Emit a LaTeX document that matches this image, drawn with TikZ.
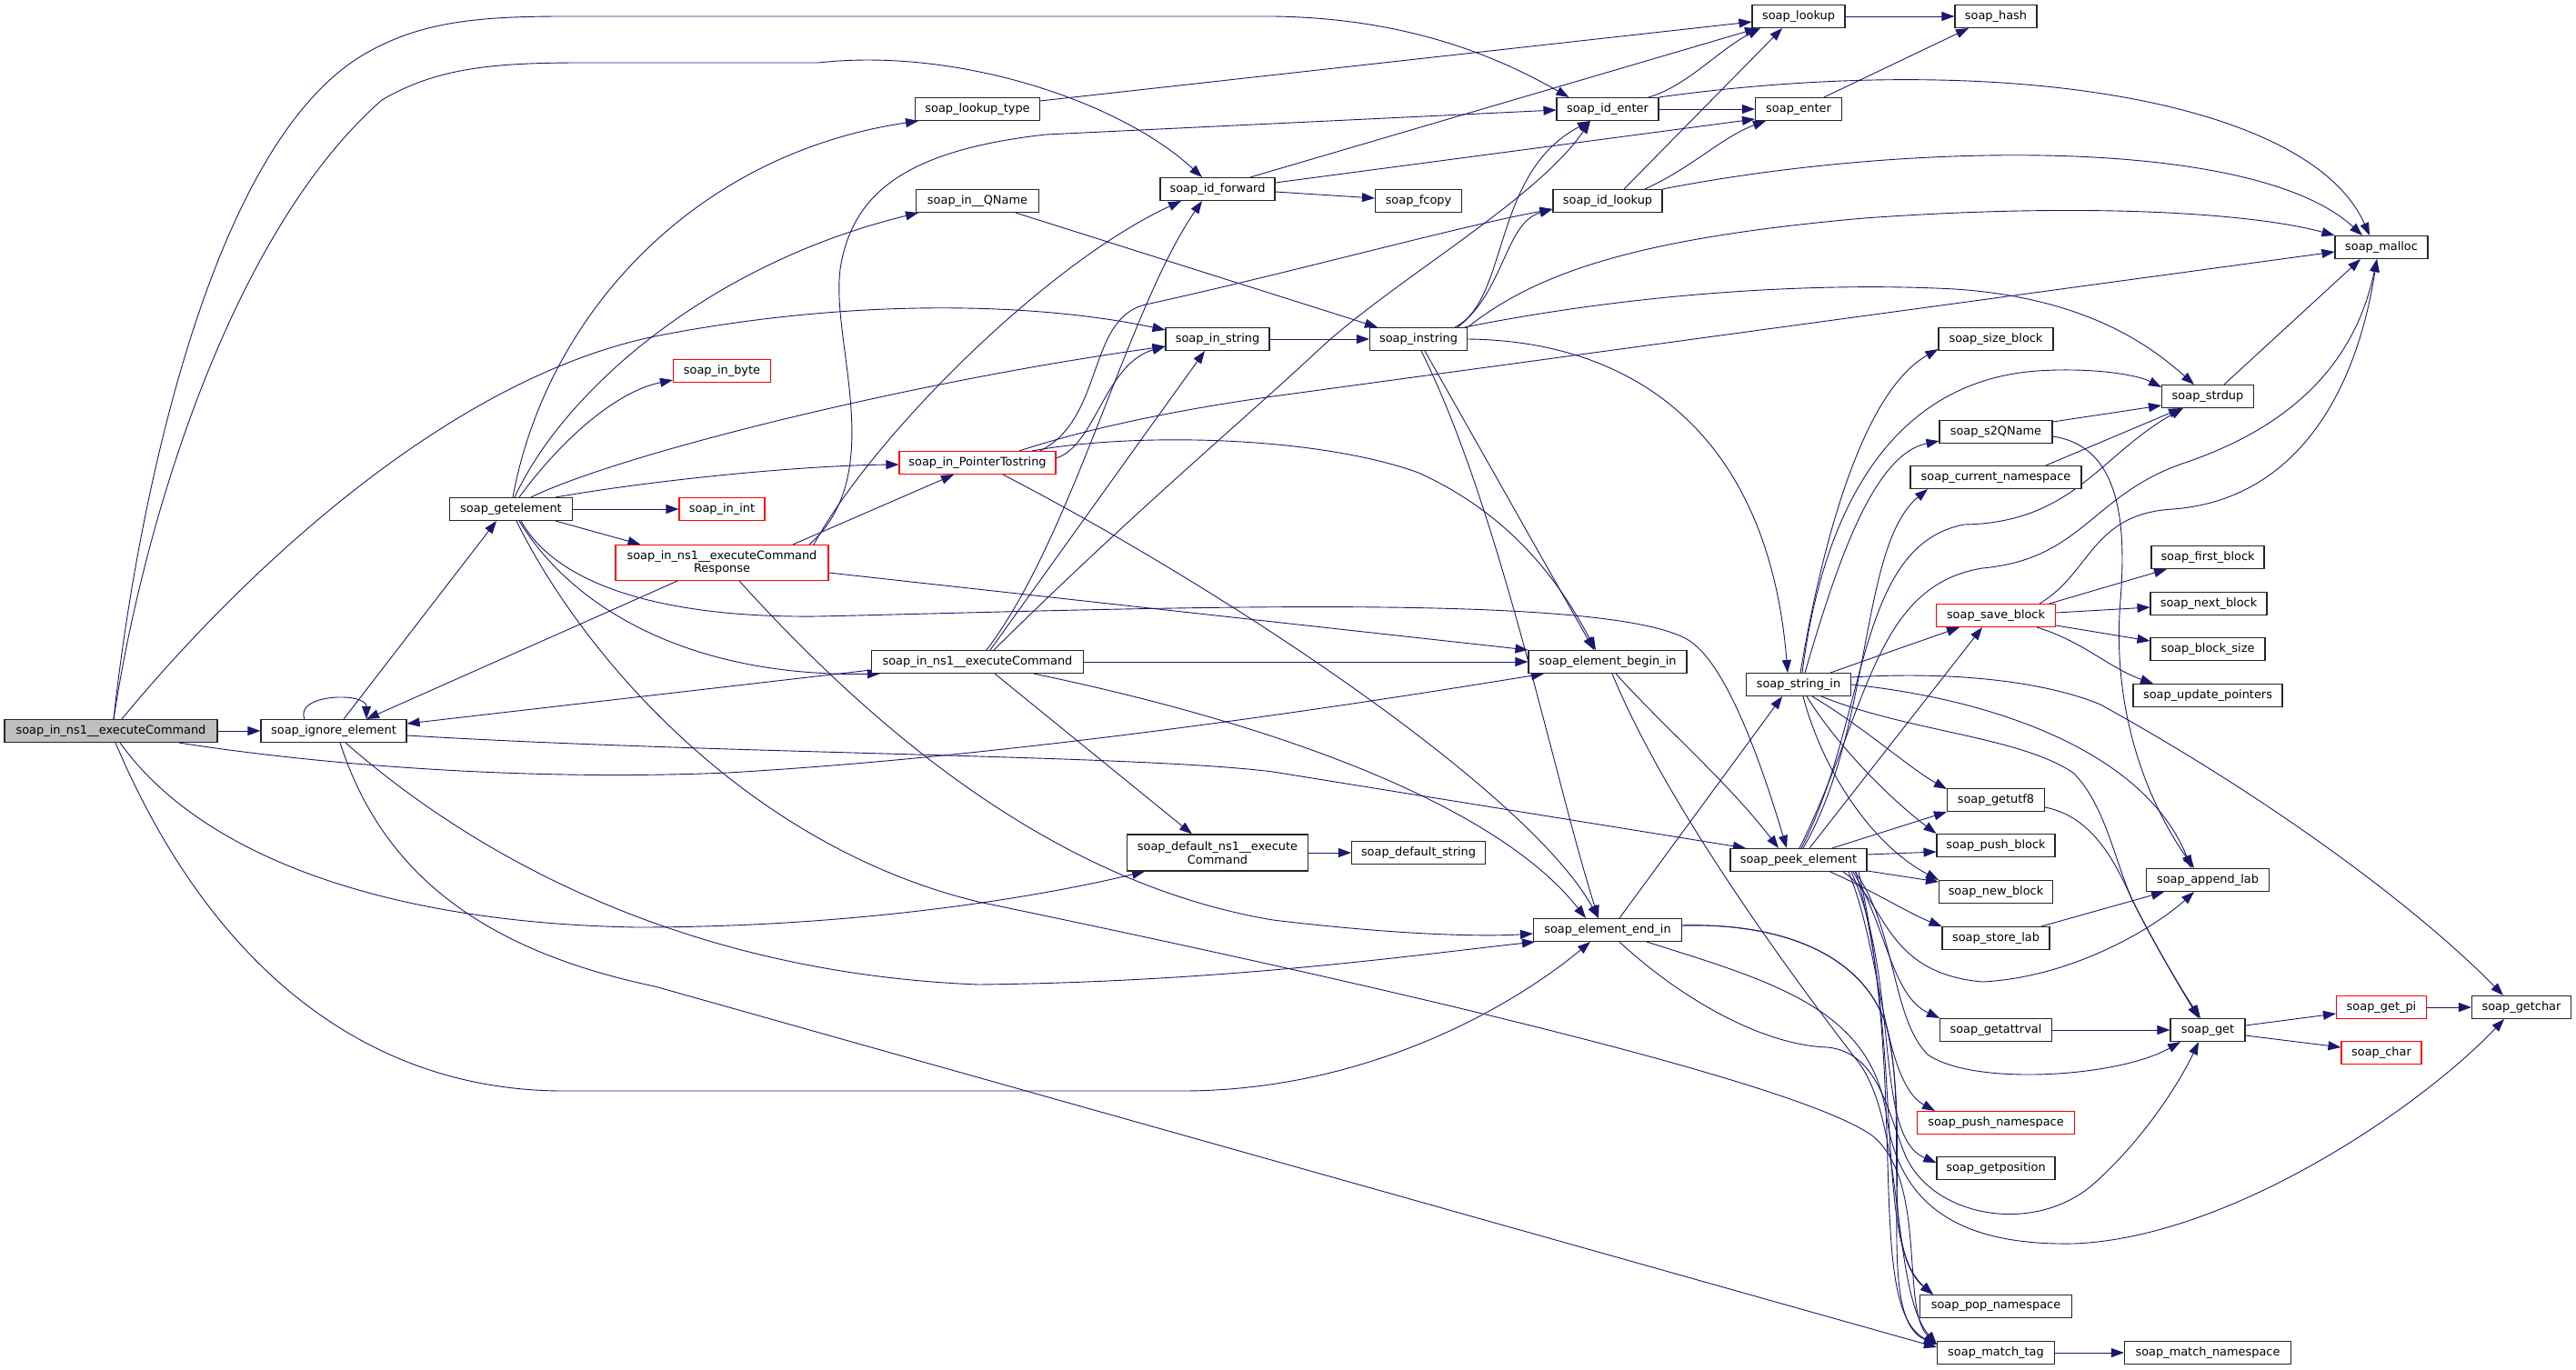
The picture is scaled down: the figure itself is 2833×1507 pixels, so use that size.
\documentclass[tikz,border=0pt]{standalone}
\usepackage{fontspec}
\setmainfont{DejaVu Sans}
\usetikzlibrary{arrows.meta,backgrounds}
\definecolor{callblue}{HTML}{191970}
\definecolor{rootgray}{HTML}{BFBFBF}
\newcommand\fnfont{\fontsize{12.9pt}{14.5pt}\selectfont}
\tikzset{
  fnbox/.style  ={draw=black!85,line width=1.1pt,fill=white,inner sep=0pt,
                  minimum height=25pt,font=\fnfont,align=center},
  redbox/.style ={fnbox,draw=red},
  rootbox/.style={fnbox,fill=rootgray},
  call/.style   ={draw=callblue,line width=0.9pt,-{Triangle[length=14pt,width=10pt]}},
}
\begin{document}
\begin{tikzpicture}[x=1pt,y=-1pt]
\useasboundingbox (0,0) rectangle (2833,1507);
% callers on the left
\node[rootbox,minimum width=234pt] (root) at (122,804) {soap\_in\_ns1\_\_executeCommand};
\node[fnbox,minimum width=160pt] (ignore) at (367,804) {soap\_ignore\_element};
\node[fnbox,minimum width=135pt] (getelem) at (562,560) {soap\_getelement};
\node[redbox,minimum width=107pt] (inbyte) at (794,408) {soap\_in\_byte};
\node[redbox,minimum width=94pt] (inint) at (794,560) {soap\_in\_int};
\node[redbox,minimum width=234pt,minimum height=39pt] (resp) at (794,619) {soap\_in\_ns1\_\_executeCommand\\Response};
\node[fnbox,minimum width=137pt] (lookuptype) at (1075,120) {soap\_lookup\_type};
\node[fnbox,minimum width=135pt] (inqname) at (1075,221) {soap\_in\_\_QName};
\node[redbox,minimum width=172pt] (inptr) at (1075,509) {soap\_in\_PointerTostring};
\node[fnbox,minimum width=233pt] (incmd) at (1075,728) {soap\_in\_ns1\_\_executeCommand};
\node[fnbox,minimum width=126pt] (idfwd) at (1339,208) {soap\_id\_forward};
\node[fnbox,minimum width=114pt] (instr) at (1339,373) {soap\_in\_string};
\node[fnbox,minimum width=199pt,minimum height=40pt] (defcmd) at (1339,938) {soap\_default\_ns1\_\_execute\\Command};
\node[fnbox,minimum width=95pt] (fcopy) at (1560,221) {soap\_fcopy};
\node[fnbox,minimum width=107pt] (instring) at (1560,373) {soap\_instring};
\node[fnbox,minimum width=147pt] (defstr) at (1560,938) {soap\_default\_string};
\node[fnbox,minimum width=112pt] (identer) at (1768,120) {soap\_id\_enter};
\node[fnbox,minimum width=120pt] (idlookup) at (1768,221) {soap\_id\_lookup};
\node[fnbox,minimum width=174pt] (beginin) at (1768,728) {soap\_element\_begin\_in};
\node[fnbox,minimum width=163pt] (endin) at (1768,1023) {soap\_element\_end\_in};
\node[fnbox,minimum width=102pt] (lookup) at (1978,18) {soap\_lookup};
\node[fnbox,minimum width=95pt] (enter) at (1978,120) {soap\_enter};
\node[fnbox,minimum width=115pt] (stringin) at (1978,753) {soap\_string\_in};
\node[fnbox,minimum width=150pt] (peek) at (1978,946) {soap\_peek\_element};
% runtime helpers
\node[fnbox,minimum width=90pt] (hash) at (2195,18) {soap\_hash};
\node[fnbox,minimum width=126pt] (sizeblock) at (2195,373) {soap\_size\_block};
\node[fnbox,minimum width=124pt] (s2qname) at (2195,475) {soap\_s2QName};
\node[fnbox,minimum width=188pt] (curns) at (2195,525) {soap\_current\_namespace};
\node[redbox,minimum width=131pt] (saveblock) at (2195,677) {soap\_save\_block};
\node[fnbox,minimum width=107pt] (getutf8) at (2195,880) {soap\_getutf8};
\node[fnbox,minimum width=130pt] (pushblock) at (2195,930) {soap\_push\_block};
\node[fnbox,minimum width=125pt] (newblock) at (2195,981) {soap\_new\_block};
\node[fnbox,minimum width=118pt] (storelab) at (2195,1032) {soap\_store\_lab};
\node[fnbox,minimum width=123pt] (getattrval) at (2195,1133) {soap\_getattrval};
\node[redbox,minimum width=173pt] (pushns) at (2195,1235) {soap\_push\_namespace};
\node[fnbox,minimum width=130pt] (getpos) at (2195,1285) {soap\_getposition};
\node[fnbox,minimum width=167pt] (popns) at (2195,1437) {soap\_pop\_namespace};
\node[fnbox,minimum width=129pt] (matchtag) at (2195,1488) {soap\_match\_tag};
\node[fnbox,minimum width=101pt] (strdup) at (2428,436) {soap\_strdup};
\node[fnbox,minimum width=124pt] (firstblock) at (2428,613) {soap\_first\_block};
\node[fnbox,minimum width=128pt] (nextblock) at (2429,664) {soap\_next\_block};
\node[fnbox,minimum width=126pt] (blocksize) at (2428,714) {soap\_block\_size};
\node[fnbox,minimum width=164pt] (updptr) at (2428,765) {soap\_update\_pointers};
\node[fnbox,minimum width=135pt] (appendlab) at (2428,968) {soap\_append\_lab};
\node[fnbox,minimum width=82pt] (get) at (2428,1133) {soap\_get};
\node[fnbox,minimum width=183pt] (matchns) at (2428,1488) {soap\_match\_namespace};
\node[fnbox,minimum width=102pt] (malloc) at (2619,272) {soap\_malloc};
\node[redbox,minimum width=99pt] (getpi) at (2619,1108) {soap\_get\_pi};
\node[redbox,minimum width=88pt] (chr) at (2619,1158) {soap\_char};
\node[fnbox,minimum width=109pt] (getchar) at (2773,1108) {soap\_getchar};

\begin{scope}[on background layer]
\foreach \a/\b in {root/ignore,getelem/inint,incmd/beginin,instr/instring,identer/enter,
  lookup/hash,defcmd/defstr,getpi/getchar,getattrval/get,matchtag/matchns}
  \draw[call] (\a.east) -- (\b.west);
% root
\draw[call] ([xshift=3pt]root.north) .. controls (150,560) and (230,160) .. (400,60) .. controls (460,25) and (520,18) .. (620,18) -- (1400,18) .. controls (1560,20) and (1660,70) .. ([xshift=14pt]identer.north west);
\draw[call] ([xshift=3pt]root.north) .. controls (160,560) and (260,250) .. (420,110) .. controls (480,75) and (540,69) .. (640,69) -- (900,69) .. controls (1050,52) and (1230,110) .. ([xshift=-17pt]idfwd.north);
\draw[call] ([xshift=12pt]root.north) .. controls (250,650) and (480,420) .. (720,370) .. controls (950,325) and (1150,335) .. ([yshift=-3pt]instr.north west);
\draw[call] ([xshift=75pt]root.south) .. controls (330,838) and (560,860) .. (800,850) .. controls (1150,830) and (1550,765) .. ([xshift=-70pt]beginin.south);
\draw[call] ([xshift=10pt]root.south) .. controls (220,940) and (420,1015) .. (700,1020) .. controls (950,1020) and (1150,985) .. ([xshift=-80pt]defcmd.south);
\draw[call] ([xshift=5pt]root.south) .. controls (230,1060) and (400,1200) .. (620,1200) -- (1300,1200) .. controls (1500,1200) and (1660,1110) .. ([xshift=-19pt]endin.south);
% soap_ignore_element
\draw[call] ([xshift=11pt]ignore.north) -- ([xshift=-16pt]getelem.south);
\draw[call] ([xshift=-32pt]ignore.north) .. controls +(-12,-28) and +(0,-30) .. ([xshift=36pt]ignore.north);
\draw[call] ([yshift=-5pt]ignore.east) .. controls (800,830) and (1250,830) .. (1400,849) -- ([xshift=-58pt]peek.north);
\draw[call] ([xshift=13pt]ignore.south) .. controls (520,940) and (750,1070) .. (1076,1083) .. controls (1350,1080) and (1560,1050) .. ([xshift=2pt]endin.south west);
\draw[call] ([xshift=7pt]ignore.south) .. controls (420,960) and (530,1045) .. (720,1085) -- ([yshift=6pt]matchtag.west);
% soap_getelement
\draw[call] ([xshift=2pt]getelem.north) .. controls (600,350) and (760,170) .. ([xshift=-65pt]lookuptype.south);
\draw[call] ([xshift=4pt]getelem.north) .. controls (620,430) and (780,290) .. ([xshift=-65pt]inqname.south);
\draw[call] ([xshift=9pt]getelem.north) .. controls (620,480) and (680,430) .. ([yshift=3pt]inbyte.south west);
\draw[call] ([xshift=22pt]getelem.north) .. controls (680,500) and (1000,420) .. ([yshift=-8pt]instr.west);
\draw[call] ([xshift=49pt]getelem.north) .. controls (720,528) and (880,512) .. ([yshift=-2pt]inptr.west);
\draw[call] ([xshift=49pt]getelem.south) -- ([xshift=28pt]resp.north west);
\draw[call] ([xshift=9pt]getelem.south) .. controls (630,670) and (760,745) .. ([xshift=10pt]incmd.south west);
\draw[call] ([xshift=11pt]getelem.south) .. controls (610,640) and (720,680) .. (900,678) .. controls (1250,670) and (1760,650) .. (1855,703) .. controls (1900,728) and (1940,850) .. ([xshift=-13pt]peek.north);
\draw[call] ([xshift=6pt]getelem.south) .. controls (640,720) and (820,930) .. (1076,992) .. controls (1500,1080) and (1980,1190) .. (2060,1250) .. controls (2120,1300) and (2090,1440) .. ([yshift=-4pt]matchtag.north west);
% soap_in_ns1__executeCommandResponse
\draw[call] ([xshift=78pt]resp.north) -- ([xshift=-26pt]inptr.south);
\draw[call] ([xshift=96pt]resp.north) .. controls (980,520) and (910,370) .. (925,290) .. controls (940,210) and (1000,165) .. (1150,148) -- ([yshift=-1pt]identer.west);
\draw[call] ([xshift=101pt]resp.north) .. controls (960,480) and (1150,290) .. ([xshift=-40pt]idfwd.south);
\draw[call] ([yshift=-11pt]resp.east) -- (beginin.north west);
\draw[call] ([xshift=19pt]resp.south) .. controls (950,790) and (1150,970) .. (1400,1012) .. controls (1550,1030) and (1640,1030) .. ([yshift=-4pt]endin.west);
\draw[call] ([xshift=-49pt]resp.south) -- ([xshift=36pt]ignore.north);
% soap_in_PointerTostring
\draw[call] ([yshift=5pt]inptr.east) .. controls (1205,490) and (1215,400) .. ([yshift=-8pt]instr.west);
\draw[call] ([xshift=69pt]inptr.north) .. controls (1215,460) and (1195,350) .. (1260,335) .. controls (1420,300) and (1600,250) .. ([yshift=-9pt]idlookup.west);
\draw[call] ([xshift=46pt]inptr.north) .. controls (1200,470) and (1300,450) .. (1400,436) -- ([yshift=-5pt]malloc.west);
\draw[call] ([xshift=60pt]inptr.north) .. controls (1250,475) and (1450,480) .. (1560,520) .. controls (1670,570) and (1720,650) .. ([xshift=-13pt]beginin.north);
\draw[call] ([xshift=28pt]inptr.south) .. controls (1350,650) and (1680,870) .. ([xshift=-10pt]endin.north);
% soap_in_ns1__executeCommand
\draw[call] ([yshift=-9pt]incmd.west) -- ([yshift=8pt]ignore.east);
\draw[call] ([xshift=19pt]incmd.south) -- ([xshift=-28pt]defcmd.north);
\draw[call] ([xshift=62pt]incmd.south) .. controls (1420,800) and (1650,890) .. ([xshift=-24pt]endin.north);
\draw[call] ([xshift=14pt]incmd.north) -- ([xshift=-14pt]instr.south);
\draw[call] ([xshift=10pt]incmd.north) .. controls (1180,590) and (1240,340) .. ([xshift=-17pt]idfwd.south);
\draw[call] ([xshift=18pt]incmd.north) .. controls (1250,560) and (1370,460) .. (1450,385) .. controls (1530,310) and (1690,220) .. ([xshift=-19pt]identer.south);
% middle column
\draw[call] ([xshift=42pt]inqname.south) -- ([xshift=-45pt]instring.north);
\draw[call] ([yshift=9pt]lookuptype.east) -- ([yshift=-6pt]lookup.west);
\draw[call] ([xshift=36pt]idfwd.north) -- ([xshift=-45pt]lookup.south);
\draw[call] ([yshift=7pt]idfwd.east) -- ([yshift=-11pt]enter.west);
\draw[call] ([yshift=-3pt]idfwd.east) -- ([yshift=3pt]fcopy.west);
% soap_instring
\draw[call] ([xshift=40pt]instring.north) .. controls (1660,330) and (1640,190) .. ([xshift=-19pt]identer.south);
\draw[call] ([xshift=43pt]instring.north) .. controls (1655,320) and (1655,245) .. ([yshift=-9pt]idlookup.west);
\draw[call] (instring.north east) .. controls (1690,300) and (1800,262) .. (2050,240) .. controls (2300,222) and (2480,235) .. (malloc.north west);
\draw[call] ([xshift=-3pt]instring.north east) .. controls (1800,322) and (2000,310) .. (2150,318) .. controls (2300,328) and (2370,385) .. ([xshift=-15pt]strdup.north);
\draw[call] (instring.east) .. controls (1800,375) and (1945,480) .. ([xshift=-12pt]stringin.north);
\draw[call] ([xshift=7pt]instring.south) -- ([xshift=-15pt]beginin.north);
\draw[call] ([xshift=3pt]instring.south) .. controls (1650,560) and (1710,860) .. ([xshift=-10pt]endin.north);
% hashing and ids
\draw[call] ([xshift=45pt]identer.north) .. controls (1855,95) and (1890,55) .. ([xshift=-42pt]lookup.south);
\draw[call] (identer.north east) .. controls (2200,55) and (2540,110) .. ([xshift=-13pt]malloc.north);
\draw[call] ([xshift=18pt]idlookup.north) -- ([xshift=-18pt]lookup.south);
\draw[call] ([xshift=41pt]idlookup.north) .. controls (1860,185) and (1895,150) .. ([xshift=-36pt]enter.south);
\draw[call] (idlookup.north east) .. controls (2100,155) and (2480,150) .. ([xshift=-21pt]malloc.north);
\draw[call] ([xshift=28pt]enter.north) -- ([xshift=-30pt]hash.south);
% soap_string_in
\draw[call] ([xshift=2pt]stringin.north) .. controls (2005,590) and (2050,430) .. ([yshift=2pt]sizeblock.south west);
\draw[call] ([xshift=4pt]stringin.north) .. controls (2005,560) and (2080,420) .. (2240,408) .. controls (2300,404) and (2350,412) .. ([yshift=-3pt]strdup.north west);
\draw[call] ([xshift=7pt]stringin.north) .. controls (2020,620) and (2060,500) .. ([yshift=3pt]s2qname.south west);
\draw[call] ([xshift=35pt]stringin.north) -- ([xshift=-40pt]saveblock.south);
\draw[call] ([xshift=15pt]stringin.south) .. controls (2050,800) and (2100,845) .. ([yshift=-1pt]getutf8.north west);
\draw[call] ([xshift=9pt]stringin.south) .. controls (2020,820) and (2080,880) .. (pushblock.north west);
\draw[call] ([xshift=5pt]stringin.south) .. controls (2005,850) and (2060,930) .. (newblock.north west);
\draw[call] ([xshift=25pt]stringin.south) .. controls (2100,805) and (2220,810) .. (2280,850) .. controls (2315,885) and (2325,945) .. (2345,990) .. controls (2370,1040) and (2400,1090) .. ([xshift=-10pt]get.north);
\draw[call] (stringin.east) .. controls (2200,770) and (2360,830) .. ([xshift=-18pt]appendlab.north);
\draw[call] ([yshift=8pt]stringin.east) .. controls (2150,738) and (2250,750) .. (2310,775) .. controls (2500,880) and (2660,1000) .. ([xshift=-20pt]getchar.north);
% soap_save_block and friends
\draw[call] ([xshift=48pt]saveblock.north) .. controls (2300,630) and (2300,565) .. (2390,560) .. controls (2520,550) and (2590,440) .. ([xshift=-5pt]malloc.south);
\draw[call] ([xshift=59pt]saveblock.north) -- ([xshift=-45pt]firstblock.south);
\draw[call] ([yshift=3pt]saveblock.east) -- ([yshift=-4pt]nextblock.west);
\draw[call] ([yshift=-11pt]saveblock.east) -- ([yshift=9pt]blocksize.west);
\draw[call] ([xshift=45pt]saveblock.south) .. controls (2290,705) and (2320,735) .. ([xshift=-60pt]updptr.north);
\draw[call] ([yshift=11pt]s2qname.east) -- ([yshift=-10pt]strdup.west);
\draw[call] ([yshift=-5pt]s2qname.east) .. controls (2325,490) and (2340,560) .. (2332,660) .. controls (2322,780) and (2360,880) .. ([xshift=-15pt]appendlab.north);
\draw[call] ([xshift=55pt]curns.north) -- ([xshift=-29pt]strdup.south);
\draw[call] ([xshift=18pt]strdup.north) -- ([xshift=-23pt]malloc.south);
% soap_peek_element
\draw[call] ([xshift=5pt]peek.north) .. controls (2060,800) and (2045,600) .. ([xshift=-75pt]curns.south);
\draw[call] ([xshift=3pt]peek.north) .. controls (2055,790) and (2040,600) .. (2160,577) .. controls (2280,575) and (2310,500) .. ([xshift=-27pt]strdup.south);
\draw[call] ([xshift=1pt]peek.north) .. controls (2055,780) and (2060,645) .. (2180,625) .. controls (2290,615) and (2300,545) .. (2400,510) .. controls (2520,470) and (2590,400) .. ([xshift=-5pt]malloc.south);
\draw[call] ([xshift=12pt]peek.north) -- ([xshift=-15pt]saveblock.south);
\draw[call] ([xshift=37pt]peek.north) -- (getutf8.south west);
\draw[call] ([yshift=6pt]peek.east) -- ([yshift=-7pt]pushblock.west);
\draw[call] ([yshift=-12pt]peek.east) -- ([yshift=11pt]newblock.west);
\draw[call] ([xshift=35pt]peek.south) .. controls (2060,980) and (2100,1005) .. (storelab.north west);
\draw[call] ([xshift=49pt]peek.south) .. controls (2075,990) and (2070,1070) .. (2180,1080) .. controls (2280,1075) and (2370,1020) .. ([xshift=-15pt]appendlab.south);
\draw[call] ([xshift=60pt]peek.south) .. controls (2075,1020) and (2080,1095) .. (getattrval.north west);
\draw[call] ([xshift=62pt]peek.south) .. controls (2085,1020) and (2080,1120) .. (2120,1160) .. controls (2170,1195) and (2330,1185) .. ([xshift=-30pt]get.south);
\draw[call] ([xshift=55pt]peek.south) .. controls (2070,1050) and (2070,1190) .. ([xshift=20pt]pushns.north west);
\draw[call] ([xshift=58pt]peek.south) .. controls (2090,1080) and (2060,1250) .. ([yshift=6pt]getpos.west);
\draw[call] ([xshift=63pt]peek.south) .. controls (2095,1150) and (2060,1370) .. ([xshift=15pt]popns.north west);
\draw[call] ([xshift=66pt]peek.south) .. controls (2100,1200) and (2050,1440) .. ([yshift=-4pt]matchtag.north west);
% soap_element_begin_in / soap_element_end_in
\draw[call] ([xshift=9pt]beginin.south) .. controls (1830,800) and (1900,860) .. ([xshift=-22pt]peek.north);
\draw[call] ([xshift=5pt]beginin.south) .. controls (1830,880) and (1960,1060) .. (2045,1170) .. controls (2095,1240) and (2080,1420) .. ([yshift=-4pt]matchtag.north west);
\draw[call] ([xshift=13pt]endin.north) -- ([xshift=-18pt]stringin.south);
\draw[call] ([xshift=13pt]endin.south) .. controls (1850,1100) and (1940,1150) .. (2010,1152) .. controls (2065,1158) and (2075,1220) .. (2095,1270) .. controls (2125,1340) and (2240,1360) .. (2305,1300) .. controls (2355,1255) and (2395,1195) .. ([xshift=-10pt]get.south);
\draw[call] ([xshift=43pt]endin.south) .. controls (1950,1080) and (2060,1110) .. (2075,1230) .. controls (2090,1330) and (2160,1370) .. (2280,1368) .. controls (2450,1362) and (2660,1220) .. ([xshift=-19pt]getchar.south);
\draw[call] ([yshift=5pt]endin.east) .. controls (1960,1015) and (2050,1050) .. (2075,1130) .. controls (2100,1230) and (2065,1370) .. ([xshift=15pt]popns.north west);
\draw[call] ([yshift=5pt]endin.east) .. controls (1960,1015) and (2050,1050) .. (2075,1130) .. controls (2105,1260) and (2060,1450) .. ([yshift=-4pt]matchtag.north west);
% leaves
\draw[call] ([yshift=5pt]get.east) -- ([yshift=-7pt]getpi.west);
\draw[call] ([yshift=-6pt]get.east) -- ([yshift=6pt]chr.west);
\draw[call] ([yshift=-8pt]getutf8.east) .. controls (2300,898) and (2325,945) .. (2345,990) .. controls (2370,1040) and (2400,1090) .. ([xshift=-8pt]get.north);
\draw[call] ([xshift=50pt]storelab.north) -- ([xshift=-48pt]appendlab.south);
\end{scope}
\end{tikzpicture}
\end{document}
